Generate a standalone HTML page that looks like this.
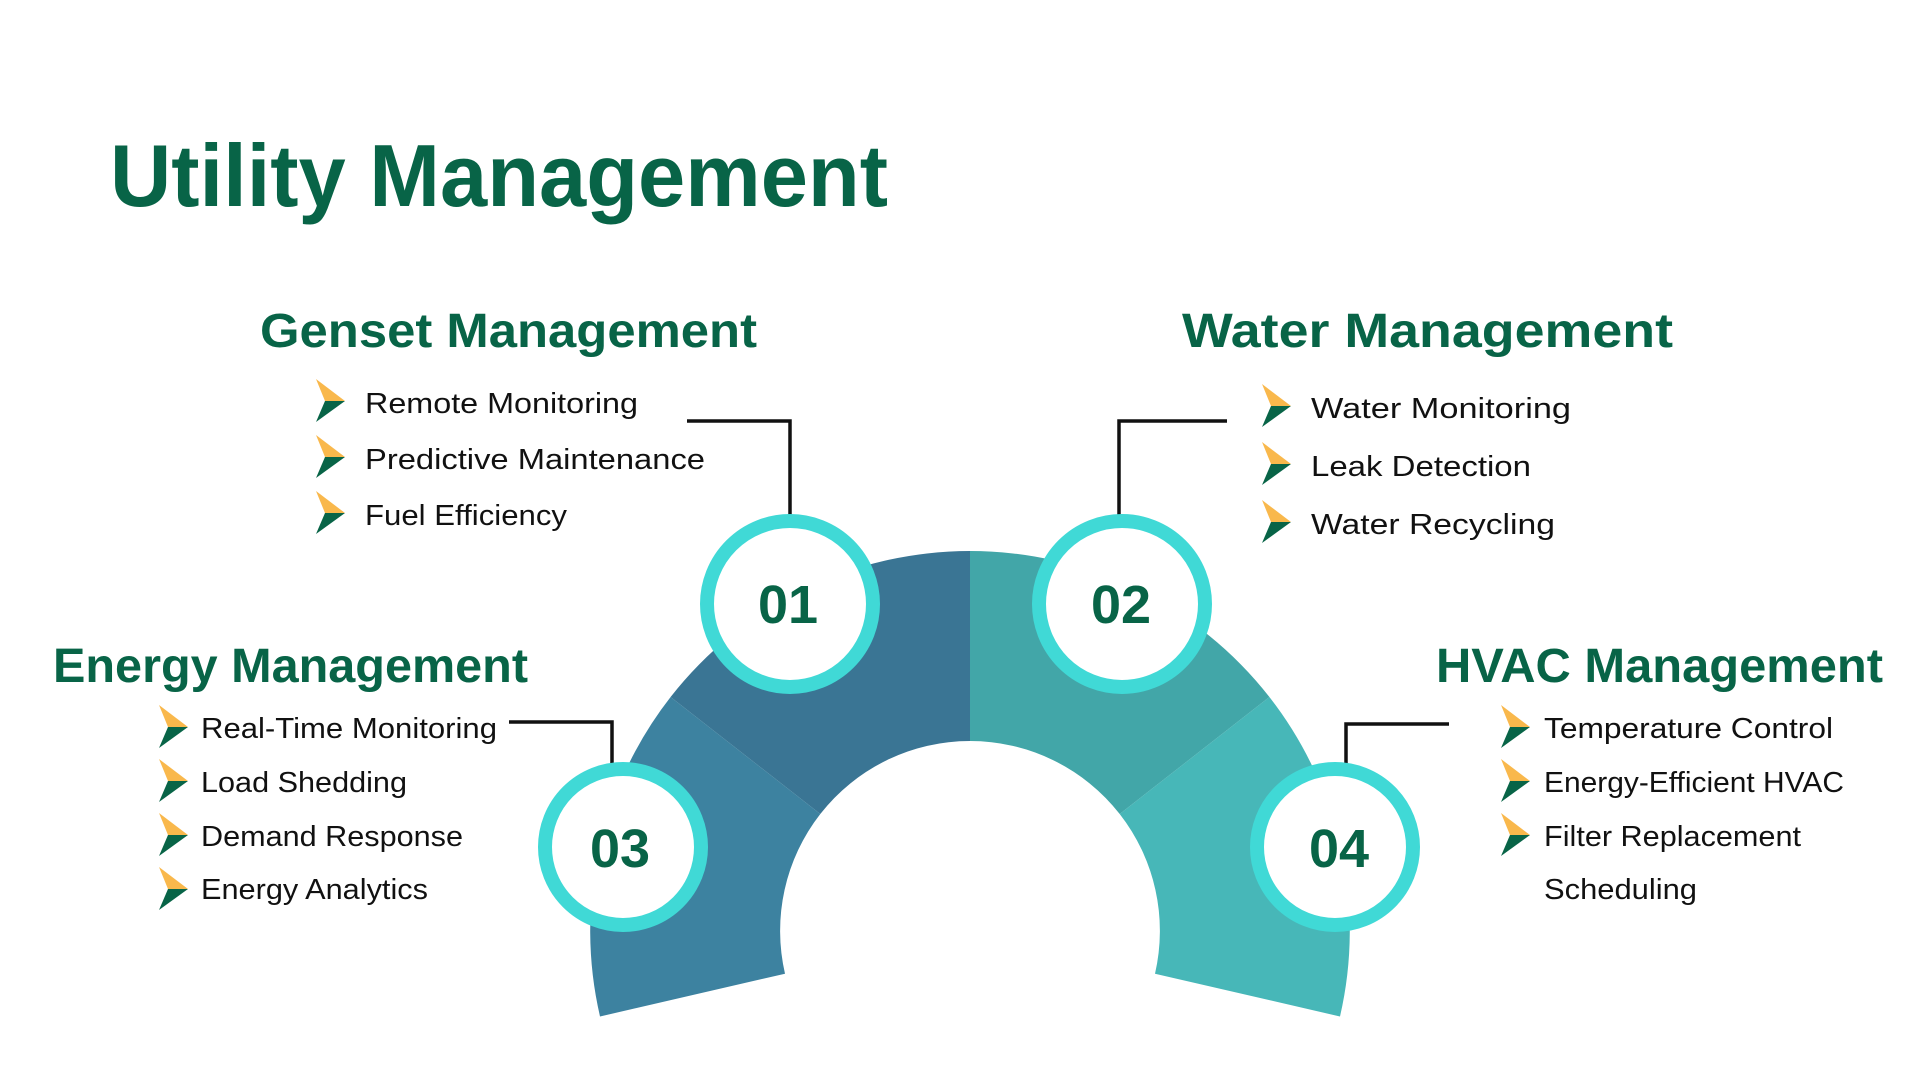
<!DOCTYPE html>
<html><head><meta charset="utf-8"><style>
html,body{margin:0;padding:0;background:#fff;}
svg{display:block;}
text{font-family:"Liberation Sans",sans-serif;}
.h{fill:#086447;font-weight:bold;}
.i{fill:#111;font-size:29px;}
</style></head><body>
<svg width="1920" height="1080" viewBox="0 0 1920 1080" xmlns="http://www.w3.org/2000/svg">
<defs>
<g id="b"><polygon points="0,0 29,22 9,22" fill="#F9B84C"/><polygon points="9,22 29,22 0,43" fill="#086447"/></g>
</defs>
<text class="h" x="110" y="206" font-size="88" textLength="778" lengthAdjust="spacingAndGlyphs">Utility Management</text>
<text class="h" x="260" y="347" font-size="48" textLength="497" lengthAdjust="spacingAndGlyphs">Genset Management</text>
<text class="h" x="1182" y="347" font-size="48" textLength="491" lengthAdjust="spacingAndGlyphs">Water Management</text>
<text class="h" x="53" y="682" font-size="48" textLength="475" lengthAdjust="spacingAndGlyphs">Energy Management</text>
<text class="h" x="1436" y="682" font-size="48" textLength="447" lengthAdjust="spacingAndGlyphs">HVAC Management</text>

<!-- arc -->
<path d="M970,551 A380,380 0 0 0 670.6,697 L820.3,814 A190,190 0 0 1 970,741 Z" fill="#3A7594"/>
<path d="M670.6,697 A380,380 0 0 0 600,1016.5 L785,973.7 A190,190 0 0 1 820.3,814 Z" fill="#3D82A0"/>
<path d="M970,551 A380,380 0 0 1 1269.4,697 L1119.7,814 A190,190 0 0 0 970,741 Z" fill="#42A6A8"/>
<path d="M1269.4,697 A380,380 0 0 1 1340,1016.5 L1155,973.7 A190,190 0 0 0 1119.7,814 Z" fill="#47B7B8"/>

<!-- connectors -->
<g stroke="#111" stroke-width="3.5" fill="none">
<polyline points="687,421 790,421 790,516"/>
<polyline points="1227,421 1119,421 1119,516"/>
<polyline points="509,722 612,722 612,767"/>
<polyline points="1449,724 1346,724 1346,767"/>
</g>

<!-- circles -->
<g fill="#fff" stroke="#40D9D6" stroke-width="14">
<circle cx="790" cy="604" r="83"/>
<circle cx="1122" cy="604" r="83"/>
<circle cx="623" cy="847" r="78"/>
<circle cx="1335" cy="847" r="78"/>
</g>
<g class="h" font-size="54" text-anchor="middle">
<text x="788" y="623">01</text>
<text x="1121" y="623">02</text>
<text x="620" y="867">03</text>
<text x="1339" y="867">04</text>
</g>

<!-- bullets -->
<use href="#b" x="316" y="379"/><use href="#b" x="316" y="435"/><use href="#b" x="316" y="491"/>
<use href="#b" x="1262" y="384"/><use href="#b" x="1262" y="442"/><use href="#b" x="1262" y="500"/>
<use href="#b" x="159" y="705"/><use href="#b" x="159" y="759"/><use href="#b" x="159" y="813"/><use href="#b" x="159" y="867"/>
<use href="#b" x="1501" y="705"/><use href="#b" x="1501" y="759"/><use href="#b" x="1501" y="813"/>

<text class="i" x="365" y="413" textLength="273" lengthAdjust="spacingAndGlyphs">Remote Monitoring</text>
<text class="i" x="365" y="469" textLength="340" lengthAdjust="spacingAndGlyphs">Predictive Maintenance</text>
<text class="i" x="365" y="525" textLength="202" lengthAdjust="spacingAndGlyphs">Fuel Efficiency</text>

<text class="i" x="1311" y="418" textLength="260" lengthAdjust="spacingAndGlyphs">Water Monitoring</text>
<text class="i" x="1311" y="476" textLength="220" lengthAdjust="spacingAndGlyphs">Leak Detection</text>
<text class="i" x="1311" y="534" textLength="244" lengthAdjust="spacingAndGlyphs">Water Recycling</text>

<text class="i" x="201" y="738" textLength="296" lengthAdjust="spacingAndGlyphs">Real-Time Monitoring</text>
<text class="i" x="201" y="792" textLength="206" lengthAdjust="spacingAndGlyphs">Load Shedding</text>
<text class="i" x="201" y="846" textLength="262" lengthAdjust="spacingAndGlyphs">Demand Response</text>
<text class="i" x="201" y="899" textLength="227" lengthAdjust="spacingAndGlyphs">Energy Analytics</text>

<text class="i" x="1544" y="738" textLength="289" lengthAdjust="spacingAndGlyphs">Temperature Control</text>
<text class="i" x="1544" y="792" textLength="300" lengthAdjust="spacingAndGlyphs">Energy-Efficient HVAC</text>
<text class="i" x="1544" y="846" textLength="257" lengthAdjust="spacingAndGlyphs">Filter Replacement</text>
<text class="i" x="1544" y="899" textLength="153" lengthAdjust="spacingAndGlyphs">Scheduling</text>
</svg>
</body></html>
